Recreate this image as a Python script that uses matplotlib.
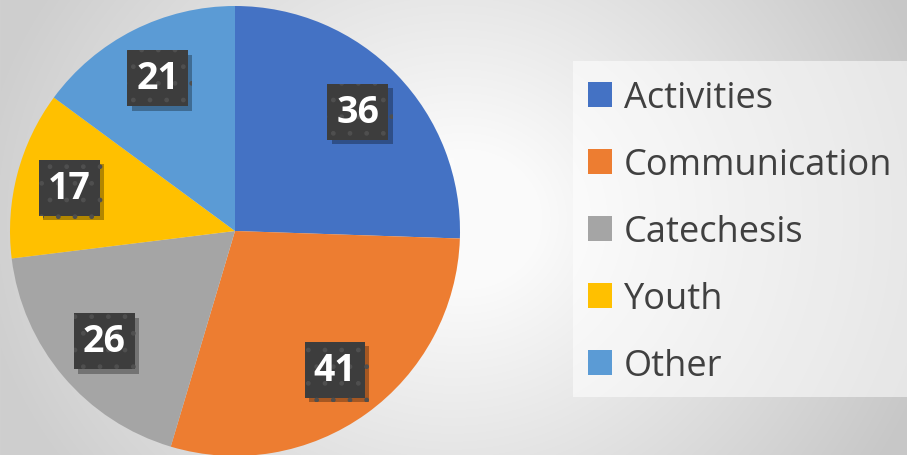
import numpy as np
import matplotlib.pyplot as plt
import matplotlib.patheffects as pe
from matplotlib.patches import Patch, Rectangle

categories = ['Activities', 'Communication', 'Catechesis', 'Youth', 'Other']
values = [36, 41, 26, 17, 21]
colors = ['#4472C4', '#ED7D31', '#A5A5A5', '#FFC000', '#5B9BD5']

W, H = 907, 456
fig = plt.figure(figsize=(W / 100, H / 100), dpi=100)

# background radial gradient
bg = fig.add_axes([0, 0, 1, 1], zorder=-10)
yy, xx = np.mgrid[0:H, 0:W]
d = np.hypot(xx - 470, (yy - 220) * 1.1)
g = 255 - 48 * np.clip((d - 70) / 420, 0, 1) - 8 * (xx / W)
bg.imshow(np.dstack([g, g, g]) / 255, aspect='auto', extent=[0, W, H, 0])
bg.set_axis_off()

# legend panel
fig.patches.append(Rectangle((573 / W, 1 - 398 / H), 1, (398 - 62) / H,
                             transform=fig.transFigure, fc='white', alpha=0.55,
                             lw=0, zorder=-5))

# pie
cx, cy, r = 235, 232, 225
ax = fig.add_axes([(cx - r) / W, (H - cy - r) / H, 2 * r / W, 2 * r / H])
wedges, texts = ax.pie(values, colors=colors, startangle=90, counterclock=False,
                       labels=[str(v) for v in values], labeldistance=0.76,
                       wedgeprops=dict(linewidth=0))
for t in texts:
    t.set_ha('center')
    t.set_va('center')
    t.set_color('white')
    t.set_fontsize(27)
    t.set_fontweight('bold')
    t.set_fontfamily('Open Sans')
    t.set_bbox(dict(boxstyle='square,pad=0.24', fc='#3d3d3d', ec='#4f4f4f',
                    lw=0, hatch='.'))
    t.get_bbox_patch().set_path_effects([
        pe.SimplePatchShadow(offset=(3, -3), shadow_rgbFace='#000000', alpha=0.3),
        pe.Normal()])
ax.set_xlim(-1, 1)
ax.set_ylim(-1, 1)
ax.set_aspect('equal')

# legend
handles = [Patch(facecolor=c, edgecolor='none') for c in colors]
leg = fig.legend(handles, categories, loc='upper left',
                 bbox_to_anchor=(588 / W, 1 - 81 / H), borderaxespad=0,
                 frameon=False, prop=dict(family='Open Sans', size=26),
                 handlelength=0.67, handleheight=0.67, handletextpad=0.33,
                 labelspacing=0.86, borderpad=0, labelcolor='#404040')

fig.savefig('out.png', dpi=100)
